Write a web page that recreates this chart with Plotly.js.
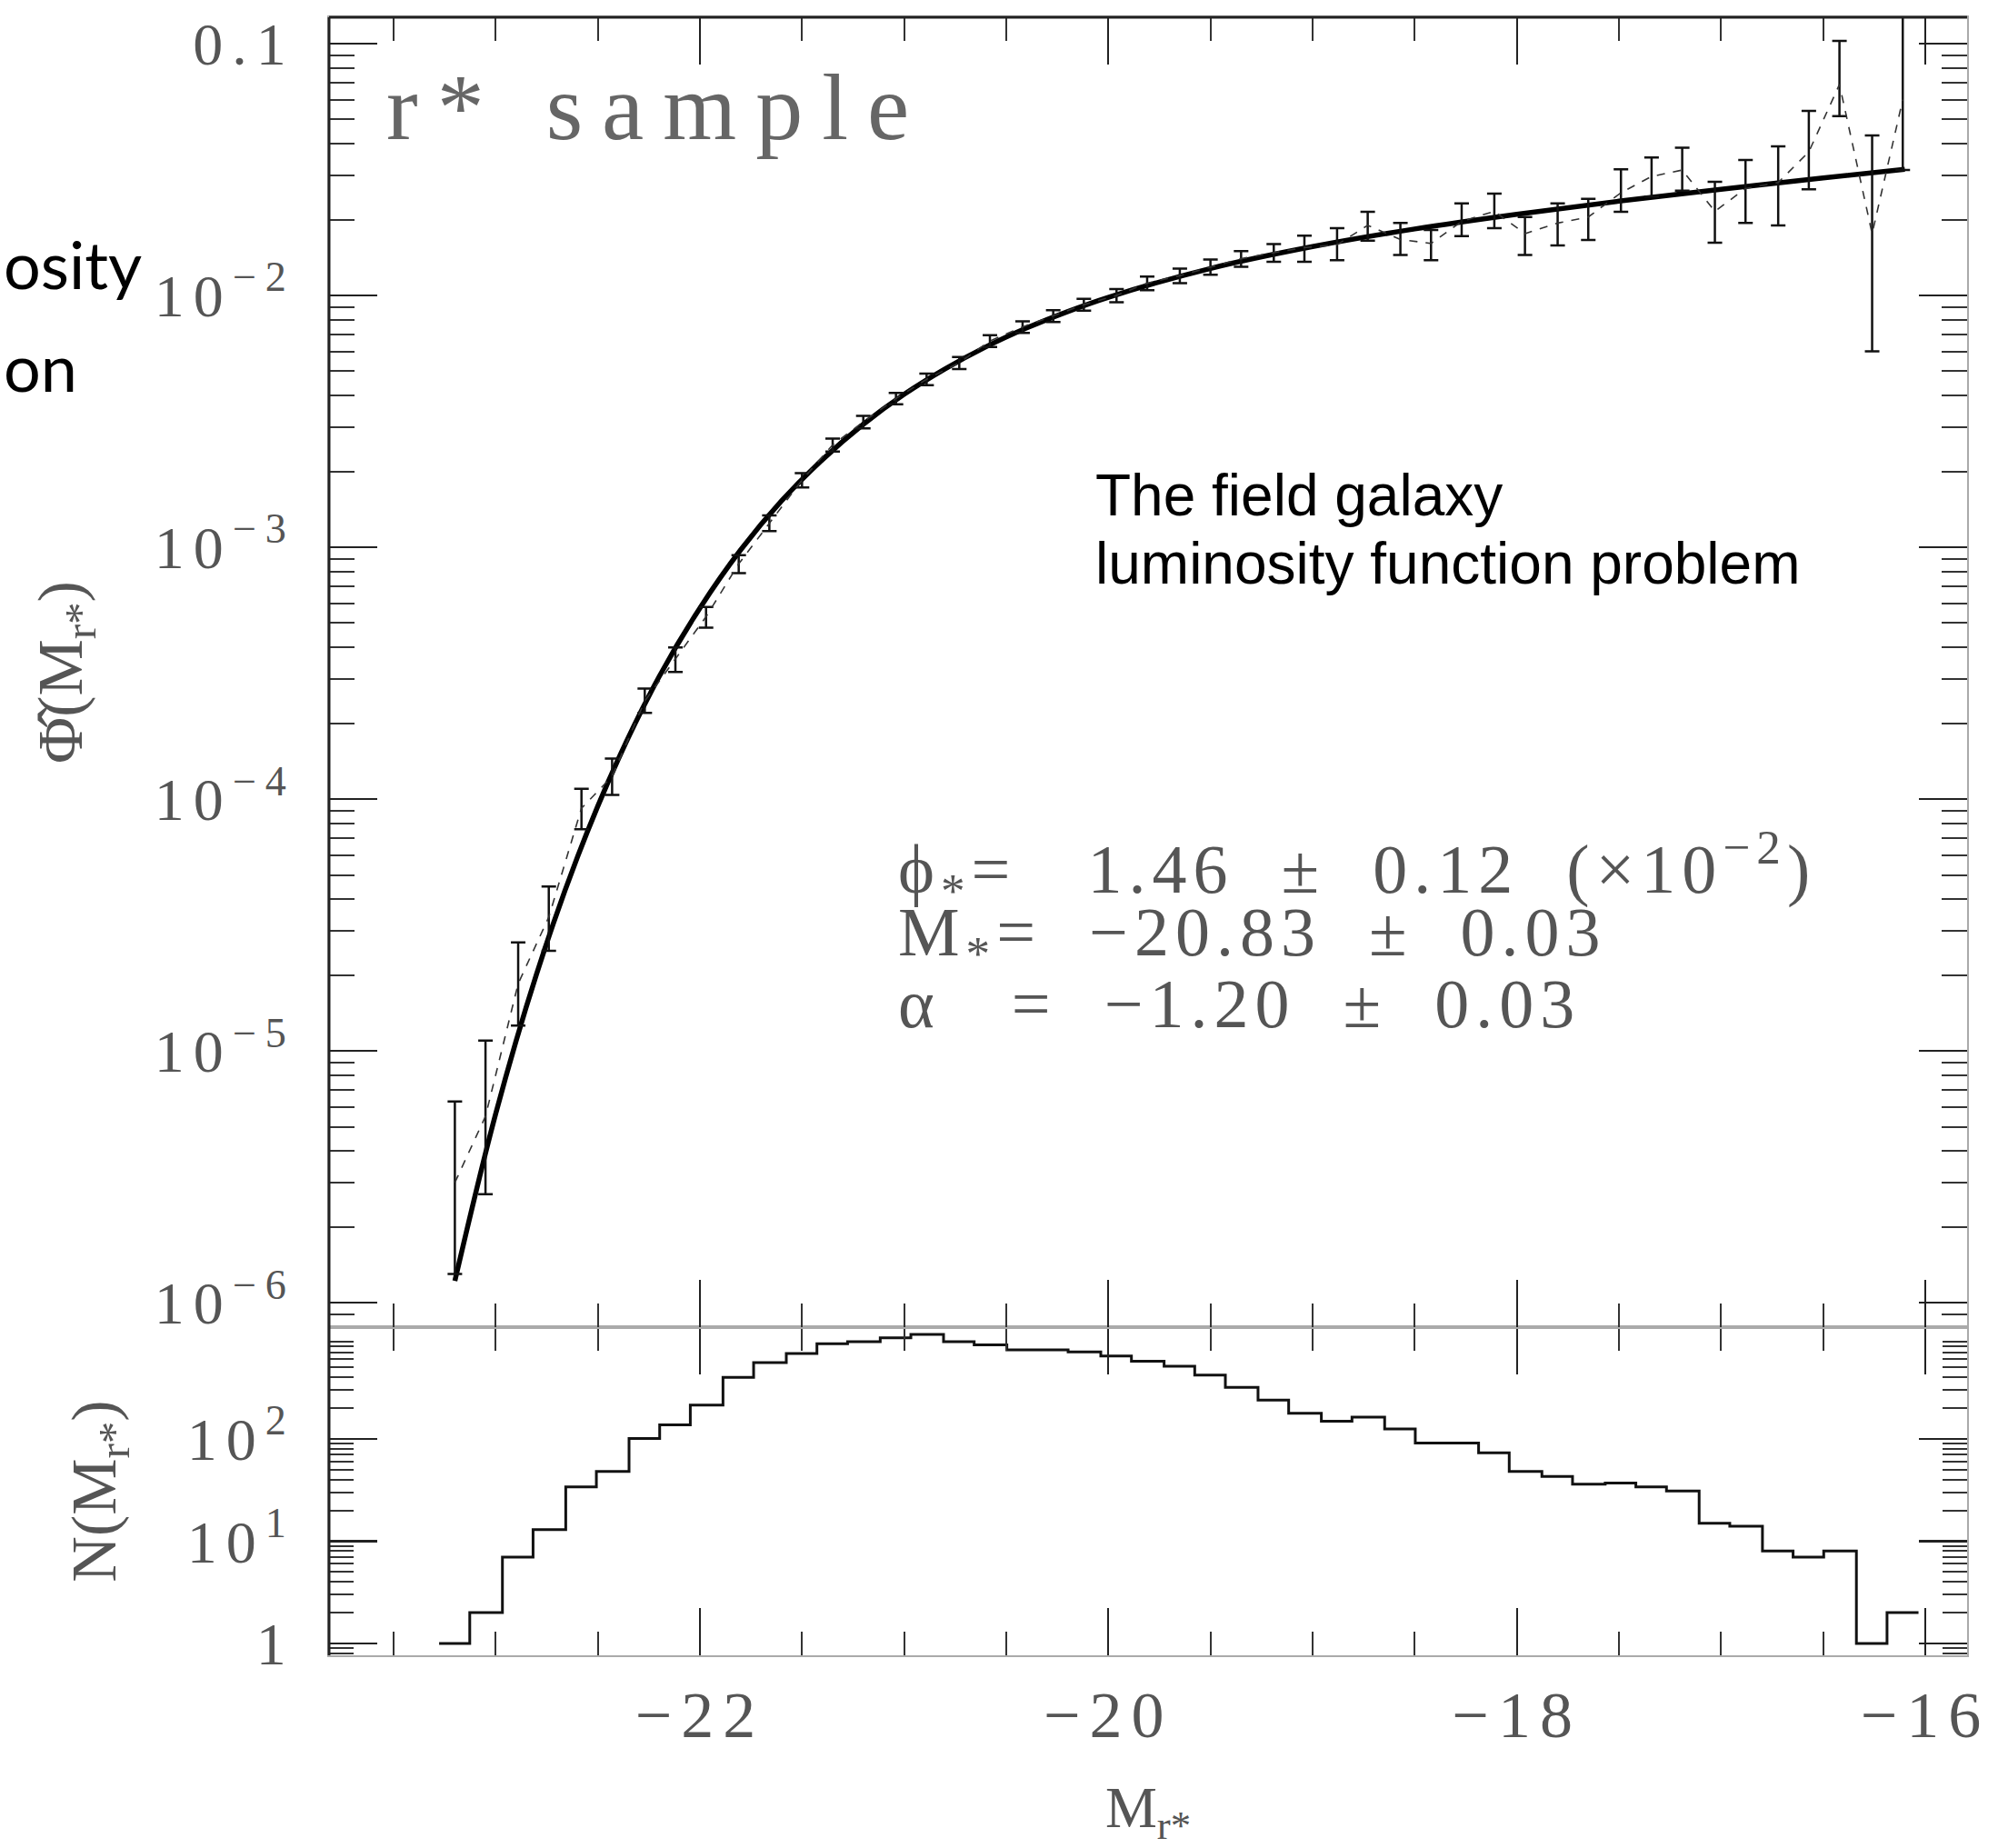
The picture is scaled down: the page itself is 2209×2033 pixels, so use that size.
<!DOCTYPE html>
<html><head><meta charset="utf-8">
<script src="https://cdn.plot.ly/plotly-3.0.1.min.js"></script>
<style>
body{margin:0;background:#fff;overflow:hidden}
.xtick text, .ytick text, .y2tick text { letter-spacing: 10px; }
g.annotation[data-index="0"] text { letter-spacing: 21px; }
g.annotation[data-index="5"] text, g.annotation[data-index="6"] text, g.annotation[data-index="7"] text { letter-spacing: 7px; }
</style>
</head><body>
<div id="chart" style="width:2209px;height:2033px"></div>
<script>
// ---- data ----
const mag = [-23.20,-23.05,-22.89,-22.74,-22.58,-22.43,-22.27,-22.12,-21.97,-21.81,-21.66,-21.50,-21.35,-21.20,-21.04,-20.89,-20.73,-20.58,-20.42,-20.27,-20.12,-19.96,-19.81,-19.65,-19.50,-19.35,-19.19,-19.04,-18.88,-18.73,-18.57,-18.42,-18.27,-18.11,-17.96,-17.80,-17.65,-17.49,-17.34,-17.19,-17.03,-16.88,-16.72,-16.57,-16.42,-16.26,-16.11];
const phi = [3.0e-6,5.5e-6,1.85e-5,3.4e-5,9.2e-5,1.23e-4,2.45e-4,3.6e-4,5.3e-4,8.6e-4,1.25e-3,1.85e-3,2.55e-3,3.15e-3,3.9e-3,4.65e-3,5.4e-3,6.6e-3,7.5e-3,8.3e-3,9.2e-3,1.0e-2,1.12e-2,1.2e-2,1.3e-2,1.4e-2,1.48e-2,1.55e-2,1.59e-2,1.90e-2,1.67e-2,1.61e-2,1.97e-2,2.16e-2,1.76e-2,1.94e-2,2.05e-2,2.56e-2,2.97e-2,3.15e-2,2.16e-2,2.66e-2,2.81e-2,3.72e-2,6.89e-2,1.76e-2,6.0e-2];
const phiHi = [6.3e-6,1.1e-5,2.7e-5,4.5e-5,1.1e-4,1.45e-4,2.75e-4,4.0e-4,5.8e-4,9.3e-4,1.34e-3,1.97e-3,2.7e-3,3.33e-3,4.1e-3,4.9e-3,5.7e-3,6.95e-3,7.9e-3,8.75e-3,9.7e-3,1.06e-2,1.19e-2,1.28e-2,1.39e-2,1.5e-2,1.6e-2,0.0173,0.0185,0.0215,0.0194,0.0182,0.0232,0.0254,0.0205,0.0232,0.0242,0.0317,0.0353,0.0386,0.0283,0.0345,0.0391,0.0541,0.1026,0.0432,0.2];
const phiLo = [1.3e-6,2.7e-6,1.26e-5,2.5e-5,7.6e-5,1.04e-4,2.2e-4,3.2e-4,4.8e-4,7.9e-4,1.16e-3,1.73e-3,2.4e-3,2.97e-3,3.7e-3,4.4e-3,5.1e-3,6.25e-3,7.1e-3,7.85e-3,8.7e-3,0.94e-2,1.05e-2,1.12e-2,1.21e-2,1.3e-2,1.36e-2,0.0136,0.0138,0.0165,0.0145,0.0138,0.0172,0.0185,0.0145,0.0158,0.0166,0.0215,0.0247,0.0261,0.0162,0.0194,0.0190,0.0264,0.0516,0.0060,0.0315];
const fitMag = [-23.2,-23.0,-22.8,-22.6,-22.4,-22.2,-22.0,-21.8,-21.6,-21.4,-21.2,-21.0,-20.8,-20.6,-20.4,-20.2,-20.0,-19.5,-19.0,-18.5,-18.0,-17.5,-17.0,-16.5,-16.1];
const fitPhi = [1.22e-6,5.63e-6,2.02e-5,5.88e-5,1.44e-4,3.06e-4,5.74e-4,9.78e-4,1.53e-3,2.23e-3,3.08e-3,4.05e-3,5.11e-3,6.25e-3,7.43e-3,8.63e-3,9.84e-3,1.281e-2,1.564e-2,1.838e-2,2.103e-2,2.37e-2,2.643e-2,2.931e-2,3.173e-2];
const histCount = [1,2,7,13,34,48,101,137,214,400,558,685,853,893,975,1050,893,832,741,741,708,646,575,513,420,320,240,178,149,163,125,91,91,73,48,43,36,37,34,31,15,14,8,7,8,1,2];
const phiTickVals = [1e-6,1e-5,1e-4,1e-3,1e-2,0.1];
const phiTickText = ['10<sup>−6</sup>','10<sup>−5</sup>','10<sup>−4</sup>','10<sup>−3</sup>','10<sup>−2</sup>','0.1'];
const nTickVals = [1,10,100];
const nTickText = ['1','10<sup>1</sup>','10<sup>2</sup>'];
const magTickVals = [-22,-20,-18,-16];
const magTickText = ['−22','−20','−18','−16'];

// ---- geometry / style ----
const W = 2209, H = 2033, L = 362, R = 45, T = 19, B = 212;
const plotW = W - L - R, plotH = H - T - B;
const px = x => (x - L) / plotW;
const py = y => (H - B - y) / plotH;
const split = py(1460);
const serif = 'Liberation Serif, DejaVu Serif, serif';
const grey = '#555';

function logMinors(lo, hi) {
  const out = [];
  for (let d = lo; d <= hi; d++) for (let m = 2; m <= 9; m++) out.push(m * Math.pow(10, d));
  return out;
}
const magMinors = [];
for (let v = -24; v <= -15; v += 0.5) magMinors.push(v);

// histogram steps built from bin centres
const binW = (mag[mag.length - 1] - mag[0]) / (mag.length - 1);
const hx = mag.map(m => m - binW / 2).concat([mag[mag.length - 1] + binW / 2]);
const hy = histCount.concat([histCount[histCount.length - 1]]);

const traces = [
  {x: hx, y: hy, xaxis: 'x', yaxis: 'y', mode: 'lines', line: {shape: 'hv', color: '#111', width: 3}, hoverinfo: 'skip'},
  {x: fitMag, y: fitPhi, xaxis: 'x2', yaxis: 'y2', mode: 'lines', line: {shape: 'spline', color: '#000', width: 5.5}},
  {x: mag, y: phi, xaxis: 'x2', yaxis: 'y2', mode: 'lines', line: {color: '#333', width: 1.6, dash: 'dash'},
   error_y: {type: 'data', symmetric: false, array: phi.map((v, i) => phiHi[i] - v), arrayminus: phi.map((v, i) => v - phiLo[i]),
             color: '#111', thickness: 2.5, width: 8}}
];

const xCommon = {
  range: [-23.816, -15.795], tickmode: 'array', tickvals: magTickVals, ticktext: magTickText,
  ticks: 'inside', ticklen: 52, tickwidth: 2.2, tickcolor: '#222', mirror: 'allticks',
  showline: true, linecolor: '#aaa', linewidth: 2, showgrid: false, zeroline: false,
  minor: {tickmode: 'array', tickvals: magMinors, ticks: 'inside', ticklen: 26, tickwidth: 2, tickcolor: '#333'}
};
const yCommon = {
  type: 'log', tickmode: 'array', ticks: 'inside', ticklen: 53, tickwidth: 2.5, tickcolor: '#222', mirror: 'allticks',
  showline: true, linecolor: '#aaa', linewidth: 2, showgrid: false, zeroline: false,
  tickfont: {family: serif, size: 66, color: grey}, ticklabelstandoff: 22
};

function note(text, x, y, font) {
  return {text: text, xref: 'paper', yref: 'paper', x: px(x), y: py(y), xanchor: 'left', yanchor: 'middle',
    align: 'left', showarrow: false, font: font};
}

const layout = {
  width: W, height: H, paper_bgcolor: '#fff', plot_bgcolor: 'rgba(0,0,0,0)', showlegend: false,
  margin: {l: L, r: R, t: T, b: B},
  xaxis: Object.assign({}, xCommon, {anchor: 'y', domain: [0, 1],
    tickfont: {family: serif, size: 72, color: grey}, ticklabelstandoff: 2,
    title: {text: 'M<sub>r*</sub>', font: {family: serif, size: 64, color: grey}, standoff: 50}}),
  xaxis2: Object.assign({}, xCommon, {anchor: 'y2', matches: 'x', showticklabels: false, domain: [0, 1]}),
  yaxis: Object.assign({}, yCommon, {domain: [0, split], range: [-0.116, 3.093], tickvals: nTickVals, ticktext: nTickText,
    minor: {tickmode: 'array', tickvals: logMinors(-1, 3), ticks: 'inside', ticklen: 27, tickwidth: 2, tickcolor: '#333'},
    title: {text: 'N(M<sub>r*</sub>)', font: {family: serif, size: 70, color: grey}, standoff: 55}}),
  yaxis2: Object.assign({}, yCommon, {domain: [split, 1], range: [-6.097, -0.895], tickvals: phiTickVals, ticktext: phiTickText,
    minor: {tickmode: 'array', tickvals: logMinors(-7, -1), ticks: 'inside', ticklen: 28, tickwidth: 2, tickcolor: '#333'},
    title: {text: 'Φ̂(M<sub>r*</sub>)', font: {family: serif, size: 70, color: grey}, standoff: 56}}),
  shapes: [
    {type: 'line', xref: 'paper', yref: 'paper', x0: 0, x1: 1, y0: 1, y1: 1, line: {color: '#222', width: 3}},
    {type: 'line', xref: 'paper', yref: 'paper', x0: 0, x1: 0, y0: 0, y1: 1, line: {color: '#222', width: 3}}
  ],
  annotations: [
    note('r* sample', 423, 118, {family: serif, size: 104, color: '#666'}),
    note('osity', 2, 290, {family: 'Lato, Open Sans, sans-serif', size: 72, color: '#000'}),
    note('on', 2, 403, {family: 'Lato, Open Sans, sans-serif', size: 72, color: '#000'}),
    note('The field galaxy', 1203, 545, {family: 'Liberation Sans, Arial, sans-serif', size: 64, color: '#000'}),
    note('luminosity function problem', 1203, 620, {family: 'Liberation Sans, Arial, sans-serif', size: 64, color: '#000'}),
    note('ϕ<sub>*</sub>=   1.46  ±  0.12  (×10<sup>−2</sup>)', 986, 956, {family: serif, size: 76, color: grey}),
    note('M<sub>*</sub>=  −20.83  ±  0.03', 986, 1031, {family: serif, size: 76, color: grey}),
    note('α   =  −1.20  ±  0.03', 986, 1104, {family: serif, size: 76, color: grey})
  ]
};

Plotly.newPlot('chart', traces, layout, {staticPlot: true, displayModeBar: false});
</script>
</body></html>
